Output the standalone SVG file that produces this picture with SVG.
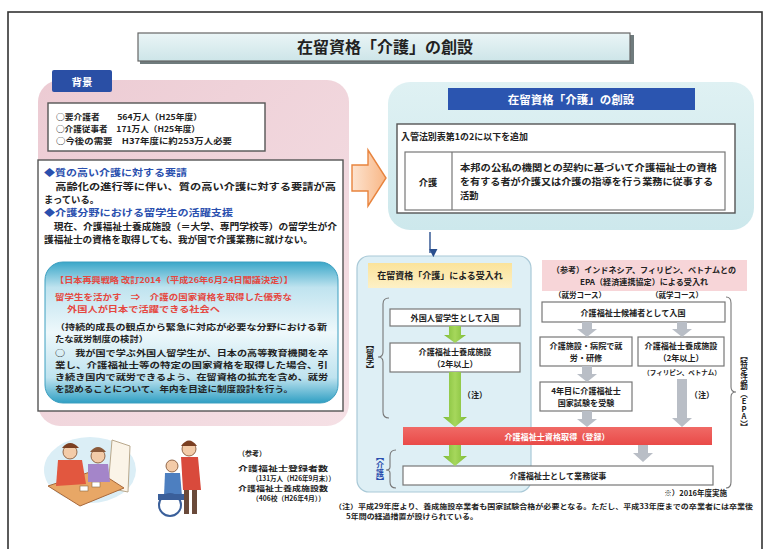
<svg xmlns="http://www.w3.org/2000/svg" width="766" height="549" viewBox="0 0 766 549">
  <defs>
    <style>
      text { font-family: "Noto Sans CJK JP", "Noto Sans", sans-serif; fill: #222; }
      .b { font-weight: 700; }
      .s7 { font-size: 7px; }
      .s8 { font-size: 8.1px; }
      .s9 { font-size: 9.2px; }
      .mid { text-anchor: middle; }
      .blue { fill: #2a4fae; font-weight: 700; }
      .red { fill: #e5473f; font-weight: 700; }
      .wht { fill: #fff; font-weight: 700; }
      .vert { writing-mode: vertical-rl; text-orientation: upright; }
      .box { fill: #fff; stroke: #555; stroke-width: 1.4; }
      .lbox { fill: #fff; stroke: #777; stroke-width: 1.2; }
      .green { fill: #8dc63f; }
      .gray { fill: #b9bec6; }
      .brace { fill: none; stroke: #777; stroke-width: 1.1; }
    </style>
    <linearGradient id="gTitle" x1="0" y1="0" x2="0" y2="1">
      <stop offset="0" stop-color="#eaf5f6"/>
      <stop offset="1" stop-color="#cde5e8"/>
    </linearGradient>
    <linearGradient id="gPink" x1="0" y1="0" x2="1" y2="1">
      <stop offset="0" stop-color="#eccbd3"/>
      <stop offset="1" stop-color="#f5e0e5"/>
    </linearGradient>
    <linearGradient id="gTeal" x1="0" y1="0" x2="0" y2="1">
      <stop offset="0" stop-color="#dff1f3"/>
      <stop offset="1" stop-color="#cde8ec"/>
    </linearGradient>
    <linearGradient id="gBlueBox" x1="0" y1="0" x2="0" y2="1">
      <stop offset="0" stop-color="#3aa7c9"/>
      <stop offset="0.18" stop-color="#bfe3ef"/>
      <stop offset="0.5" stop-color="#eef8fb"/>
      <stop offset="0.82" stop-color="#bfe3ef"/>
      <stop offset="1" stop-color="#2f9fc3"/>
    </linearGradient>
    <linearGradient id="gYellow" x1="0" y1="0" x2="0" y2="1">
      <stop offset="0" stop-color="#fbe39a"/>
      <stop offset="1" stop-color="#fdf0c6"/>
    </linearGradient>
    <linearGradient id="gRed" x1="0" y1="0" x2="0" y2="1">
      <stop offset="0" stop-color="#f06a66"/>
      <stop offset="1" stop-color="#e94a48"/>
    </linearGradient>
    <linearGradient id="gOrange" x1="0" y1="0" x2="1" y2="0">
      <stop offset="0" stop-color="#fde3cf"/>
      <stop offset="1" stop-color="#f8b786"/>
    </linearGradient>
    <linearGradient id="gGreen" x1="0" y1="0" x2="1" y2="0">
      <stop offset="0" stop-color="#7dbb35"/>
      <stop offset="0.5" stop-color="#a6d75c"/>
      <stop offset="1" stop-color="#7dbb35"/>
    </linearGradient>
    <marker id="mDown" viewBox="0 0 10 10" refX="5" refY="9" markerWidth="6" markerHeight="6" orient="auto-start-reverse">
      <path d="M0,0 L10,5 L0,10 Z" fill="#2a4f8e"/>
    </marker>
  </defs>

  <rect width="766" height="549" fill="#fff"/>
  <!-- page frame -->
  <rect x="8" y="12" width="754" height="545" fill="none" stroke="#333" stroke-width="1.6"/>

  <!-- title -->
  <g id="title">
    <rect x="140" y="35" width="494" height="29" fill="#6f7b7d"/>
    <rect x="138" y="33" width="492" height="28" fill="url(#gTitle)" stroke="#666" stroke-width="1.2"/>
    <text x="385" y="53" class="b mid" font-size="16">在留資格「介護」の創設</text>
  </g>

  <!-- background panel -->
  <g id="background">
    <rect x="38" y="80" width="311" height="346" rx="22" fill="url(#gPink)"/>
    <rect x="52" y="70" width="60" height="22" rx="2" fill="#2a4fa5"/>
    <text x="82" y="85.5" class="wht mid" font-size="10.5">背景</text>
  </g>

  <g id="stats">
    <rect x="48" y="103" width="217" height="48" class="box"/>
    <text x="56" y="120" class="s8 b" textLength="146" lengthAdjust="spacingAndGlyphs">○要介護者　　564万人（H25年度）</text>
    <text x="56" y="132" class="s8 b" textLength="144" lengthAdjust="spacingAndGlyphs">○介護従事者　171万人（H25年度）</text>
    <text x="56" y="144" class="s8 b" textLength="176" lengthAdjust="spacingAndGlyphs">○今後の需要　H37年度に約253万人必要</text>
  </g>

  <g id="needs">
    <rect x="38" y="160" width="305" height="251" class="box"/>
    <text x="44" y="176" class="blue s9" textLength="143" lengthAdjust="spacingAndGlyphs">◆質の高い介護に対する要請</text>
    <text x="44" y="190" class="s9 b" textLength="292" lengthAdjust="spacingAndGlyphs">　高齢化の進行等に伴い、質の高い介護に対する要請が高</text>
    <text x="44" y="203" class="s9 b" textLength="55" lengthAdjust="spacingAndGlyphs">まっている。</text>
    <text x="44" y="216" class="blue s9" textLength="189" lengthAdjust="spacingAndGlyphs">◆介護分野における留学生の活躍支援</text>
    <text x="44" y="230" class="s9 b" textLength="293" lengthAdjust="spacingAndGlyphs">　現在、介護福祉士養成施設（＝大学、専門学校等）の留学生が介</text>
    <text x="44" y="243" class="s9 b" textLength="269" lengthAdjust="spacingAndGlyphs">護福祉士の資格を取得しても、我が国で介護業務に就けない。</text>
  </g>

  <g id="strategy">
    <rect x="45" y="262" width="293" height="141" rx="18" fill="url(#gBlueBox)" stroke="#3c9fc0" stroke-width="1"/>
    <text x="55" y="283" class="red s8" textLength="238" lengthAdjust="spacingAndGlyphs">【日本再興戦略 改訂2014（平成26年6月24日閣議決定）】</text>
    <text x="55" y="300" class="red s8" textLength="237" lengthAdjust="spacingAndGlyphs">留学生を活かす　⇒　介護の国家資格を取得した優秀な</text>
    <text x="67" y="312" class="red s8" textLength="153" lengthAdjust="spacingAndGlyphs">外国人が日本で活躍できる社会へ</text>
    <text x="55" y="330" class="s8 b" textLength="272" lengthAdjust="spacingAndGlyphs">（持続的成長の観点から緊急に対応が必要な分野における新</text>
    <text x="55" y="342" class="s8 b" textLength="93" lengthAdjust="spacingAndGlyphs">たな就労制度の検討）</text>
    <text x="55" y="356" class="s8 b" textLength="273" lengthAdjust="spacingAndGlyphs">○　我が国で学ぶ外国人留学生が、日本の高等教育機関を卒</text>
    <text x="55" y="368" class="s8 b" textLength="273" lengthAdjust="spacingAndGlyphs">業し、介護福祉士等の特定の国家資格を取得した場合、引</text>
    <text x="55" y="380" class="s8 b" textLength="273" lengthAdjust="spacingAndGlyphs">き続き国内で就労できるよう、在留資格の拡充を含め、就労</text>
    <text x="55" y="392" class="s8 b" textLength="238" lengthAdjust="spacingAndGlyphs">を認めることについて、年内を目途に制度設計を行う。</text>
  </g>

  <!-- care illustrations -->
  <g id="illust-bed">
    <ellipse cx="90" cy="470" rx="46" ry="33" fill="#dbeef6"/>
    <path d="M112,440 L130,446 L128,492 L108,488 Z" fill="#fbf4e8" stroke="#b9a88c" stroke-width="1"/>
    <path d="M48,486 L96,470 L124,488 L80,506 Z" fill="#e8a766" stroke="#a8683a" stroke-width="1"/>
    <rect x="80" y="486" width="8" height="5" fill="#fff" stroke="#8a6a40" stroke-width="0.6"/>
    <rect x="92" y="482" width="8" height="5" fill="#fff" stroke="#8a6a40" stroke-width="0.6"/>
    <circle cx="70" cy="452" r="7" fill="#f3cba8" stroke="#7a4a2a" stroke-width="0.8"/>
    <path d="M62,448 Q70,438 79,448 Z" fill="#7a3f22"/>
    <path d="M58,460 L82,460 L86,484 L56,486 Z" fill="#e2573f"/>
    <circle cx="98" cy="456" r="7" fill="#f3cba8" stroke="#7a4a2a" stroke-width="0.8"/>
    <path d="M90,452 Q98,442 106,452 Z" fill="#8b5a3a"/>
    <path d="M88,464 L108,464 L110,482 L88,482 Z" fill="#a485c9"/>
  </g>

  <g id="illust-wheelchair">
    <circle cx="189" cy="449" r="7" fill="#f3cba8" stroke="#7a4a2a" stroke-width="0.8"/>
    <path d="M181,446 Q189,435 197,446 Z" fill="#7a3f22"/>
    <path d="M181,457 L198,457 L201,490 L183,490 Z" fill="#d94a3c"/>
    <rect x="184" y="490" width="5" height="24" fill="#6a4a3a"/>
    <rect x="192" y="490" width="5" height="24" fill="#6a4a3a"/>
    <circle cx="172" cy="466" r="6" fill="#f3cba8" stroke="#7a4a2a" stroke-width="0.8"/>
    <path d="M165,473 L180,473 L182,496 L164,496 Z" fill="#4d7fc0"/>
    <circle cx="170" cy="505" r="11" fill="none" stroke="#3a5f9a" stroke-width="2"/>
    <rect x="158" y="494" width="26" height="6" fill="#3a5f9a"/>
  </g>

  <g id="reference-note">
    <text x="238" y="456" class="s7 b">（参考）</text>
    <text x="238" y="471" class="s7 b" textLength="90" lengthAdjust="spacingAndGlyphs">介護福祉士登録者数</text>
    <text x="252" y="481" class="s7 b" textLength="83" lengthAdjust="spacingAndGlyphs">（131万人（H26年9月末））</text>
    <text x="238" y="491" class="s7 b" textLength="90" lengthAdjust="spacingAndGlyphs">介護福祉士養成施設数</text>
    <text x="252" y="501" class="s7 b" textLength="73" lengthAdjust="spacingAndGlyphs">（406校（H26年4月））</text>
  </g>

  <!-- new status panel -->
  <g id="new-status">
    <rect x="388" y="82" width="366" height="148" rx="22" fill="url(#gTeal)"/>
    <rect x="448" y="88" width="247" height="22" fill="#2b55b0"/>
    <text x="571" y="103.5" class="wht mid" font-size="11.5">在留資格「介護」の創設</text>
    <rect x="397" y="124" width="338" height="89" class="box"/>
    <text x="401" y="140" class="b" font-size="9.2" textLength="127" lengthAdjust="spacingAndGlyphs">入管法別表第1の2に以下を追加</text>
    <rect x="405" y="152" width="320" height="58" fill="#fff" stroke="#777" stroke-width="1.2"/>
    <line x1="452" y1="152" x2="452" y2="210" stroke="#777" stroke-width="1.2"/>
    <text x="428" y="186" class="b mid" font-size="9.2">介護</text>
    <text x="460" y="171" class="b" font-size="9.2" textLength="257" lengthAdjust="spacingAndGlyphs">本邦の公私の機関との契約に基づいて介護福祉士の資格</text>
    <text x="460" y="185" class="b" font-size="9.2" textLength="253" lengthAdjust="spacingAndGlyphs">を有する者が介護又は介護の指導を行う業務に従事する</text>
    <text x="460" y="199" class="b" font-size="9.2">活動</text>
  </g>

  <!-- student route -->
  <g id="student-route">
    <rect x="357" y="256" width="174" height="236" rx="12" fill="#deeff5" stroke="#a9c9d7" stroke-width="1.2"/>
    <rect x="368" y="263" width="144" height="25" fill="url(#gYellow)"/>
    <text x="440" y="279" class="b mid" font-size="9">在留資格「介護」による受入れ</text>
    <text x="370" y="357" class="b mid vert" font-size="8">【留学】</text>
    <text x="380" y="469" class="mid vert" font-size="8" style="fill:#2a4fae;font-weight:700">【介護】</text>
  </g>

  <g id="box-enter-student">
    <rect x="390" y="309" width="130" height="17" class="lbox"/>
    <text x="455" y="321" class="s8 b mid">外国人留学生として入国</text>
  </g>
  <g id="box-school">
    <rect x="390" y="343" width="130" height="29" class="lbox"/>
    <text x="455" y="355" class="s8 b mid">介護福祉士養成施設</text>
    <text x="455" y="367" class="s8 b mid">（2年以上）</text>
  </g>

  <!-- EPA route -->
  <g id="epa-route">
    <rect x="542" y="260" width="205" height="31" fill="#f7d5d8"/>
    <text x="644" y="273" class="s8 b mid">（参考）インドネシア、フィリピン、ベトナムとの</text>
    <text x="644" y="285" class="s8 b mid">EPA（経済連携協定）による受入れ</text>
    <text x="580" y="298" class="b mid" font-size="7.5">（就労コース）</text>
    <text x="677" y="298" class="b mid" font-size="7.5">（就学コース）</text>
    <text x="744" y="392" class="b mid vert" font-size="7.5">【特定活動（EPA）】</text>
  </g>

  <g id="box-enter-candidate">
    <rect x="542" y="302" width="183" height="20" class="lbox"/>
    <text x="633" y="315.5" class="s8 b mid">介護福祉士候補者として入国</text>
  </g>
  <g id="box-work">
    <rect x="540" y="337" width="92" height="29" class="lbox"/>
    <text x="586" y="349" class="s8 b mid">介護施設・病院で就</text>
    <text x="586" y="361" class="s8 b mid">労・研修</text>
  </g>
  <g id="box-epa-school">
    <rect x="638" y="337" width="86" height="29" class="lbox"/>
    <text x="681" y="349" class="s8 b mid">介護福祉士養成施設</text>
    <text x="681" y="361" class="s8 b mid">（2年以上）</text>
    <text x="682" y="375" class="mid b" font-size="6.5">（フィリピン、ベトナム）</text>
  </g>
  <g id="box-exam">
    <rect x="540" y="382" width="92" height="29" class="lbox"/>
    <text x="586" y="394" class="s8 b mid">4年目に介護福祉士</text>
    <text x="586" y="406" class="s8 b mid">国家試験を受験</text>
  </g>

  <g id="box-qualified">
    <rect x="403" y="427" width="309" height="18" fill="url(#gRed)"/>
    <text x="557" y="439.5" class="s8 wht mid">介護福祉士資格取得（登録）</text>
  </g>
  <g id="box-employed">
    <rect x="403" y="466" width="310" height="19" class="lbox"/>
    <text x="558" y="479" class="s8 b mid">介護福祉士として業務従事</text>
  </g>

  <!-- connectors -->
  <g id="connectors">
    <path d="M352,165 H368 V150 L386,178 L368,206 V191 H352 Z" fill="url(#gOrange)" stroke="#e8843e" stroke-width="1.4"/>
    <line x1="430" y1="232" x2="430" y2="253" stroke="#2a4f8e" stroke-width="1.4" marker-end="url(#mDown)"/>
    <!-- student route arrows -->
    <path fill="url(#gGreen)" d="M449,326 H461 V335 H466 L455,343 L444,335 H449 Z"/>
    <path fill="url(#gGreen)" d="M449,372 H461 V417 H467 L455,427 L443,417 H449 Z"/>
    <path fill="url(#gGreen)" d="M449,445 H461 V456 H467 L455,466 L443,456 H449 Z"/>
    <text x="475" y="398" class="s8 b mid">（注）</text>
    <!-- EPA route arrows -->
    <path class="gray" d="M582,322 H592 V329 H597 L587,337 L577,329 H582 Z"/>
    <path class="gray" d="M677,322 H687 V329 H692 L682,337 L672,329 H677 Z"/>
    <path class="gray" d="M582,366 H592 V374 H597 L587,382 L577,374 H582 Z"/>
    <path class="gray" d="M582,411 H592 V419 H597 L587,427 L577,419 H582 Z"/>
    <path class="gray" d="M677,379 H687 V418 H692 L682,427 L672,418 H677 Z"/>
    <path class="gray" d="M638,445 H648 V453 H653 L643,462 L633,453 H638 Z"/>
    <text x="702" y="398" class="s8 b mid">（注）</text>
    <!-- braces -->
    <path class="brace" d="M389,298 Q383,298 383,304 V352 Q383,357 378,357 Q383,357 383,362 V412 Q383,418 389,418"/>
    <path class="brace" d="M396,450 Q390,450 390,456 V467 Q390,470 386,470 Q390,470 390,473 V482 Q390,488 396,488"/>
    <path class="brace" d="M726,297 Q731,297 731,303 V387 Q731,392 736,392 Q731,392 731,397 V482 Q731,488 726,488"/>
  </g>

  <!-- notes -->
  <g id="notes">
    <text x="727" y="496" class="b" font-size="7.5" text-anchor="end">※）2016年度実施</text>
    <text x="334" y="509" class="b" font-size="6.8" textLength="419" lengthAdjust="spacingAndGlyphs">（注）平成29年度より、養成施設卒業者も国家試験合格が必要となる。ただし、平成33年度までの卒業者には卒業後</text>
    <text x="346" y="519" class="b" font-size="6.8" textLength="132" lengthAdjust="spacingAndGlyphs">5年間の経過措置が設けられている。</text>
  </g>
</svg>
